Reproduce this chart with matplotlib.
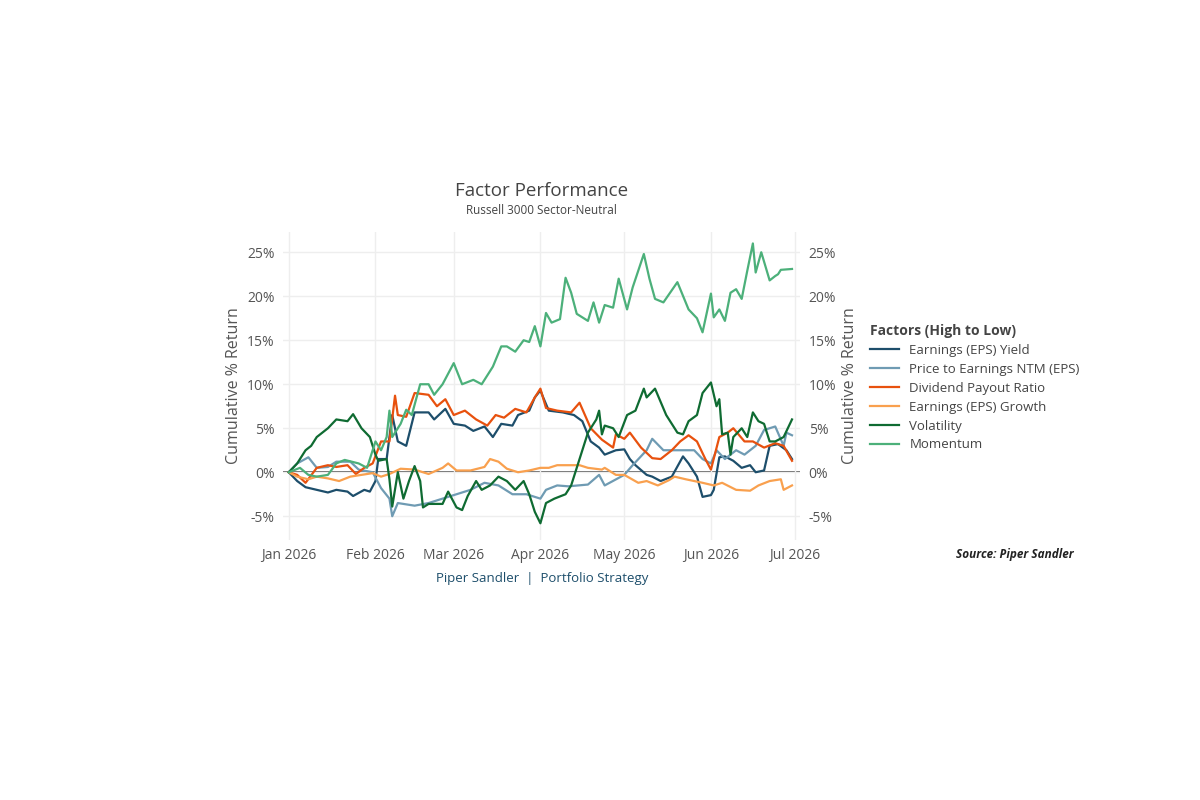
import numpy as np
import pandas as pd
import matplotlib.pyplot as plt
import matplotlib.dates as mdates

plt.rcParams['font.family'] = ['Open Sans', 'DejaVu Sans']

start = pd.Timestamp('2026-01-01')

# (day offset from Jan 1, cumulative % return)
ey_days = [0,3,6,10,14,17,21,23,27,29,31,32,35,37,39,42,45,50,52,56,59,63,66,70,73,76,80,82,86,88,90,91,93,98,102,105,108,111,113,117,120,122,124,128,130,133,137,141,143,146,148,151,152,154,156,159,162,165,167,170,172,175,178,180]
ey_vals = [0,-1,-1.7,-2,-2.3,-2,-2.2,-2.7,-2,-2.2,-1,1.5,1.5,6.5,3.5,3,6.8,6.8,6,7.2,5.5,5.3,4.7,5.2,4,5.5,5.3,6.5,7,8.5,9.3,8.5,7,6.8,6.5,5.8,3.5,2.8,2,2.5,2.6,1.5,0.8,-0.3,-0.5,-1,-0.5,1.8,1,-0.5,-2.8,-2.6,-2,1.7,1.8,1.3,0.5,0.8,0,0.2,3,3.2,2.5,1.5]

pe_days = [0,3,7,10,14,17,22,25,30,33,36,37,39,45,50,55,60,65,70,75,80,85,90,92,96,100,107,111,113,120,123,128,130,134,140,145,148,151,153,156,160,163,167,170,174,177,178,180]
pe_vals = [0,1,1.7,0.5,0.6,1.2,1.2,0.3,0,-1.8,-3,-5,-3.5,-3.8,-3.5,-3,-2.5,-2,-1.2,-1.5,-2.5,-2.5,-3,-2,-1.5,-1.6,-1.4,-0.3,-1.5,-0.3,0.8,2.5,3.8,2.5,2.5,2.5,1.5,1,2.5,1.5,2.5,2,3,4.8,5.2,3,4.5,4.2]

dp_days = [0,3,6,10,14,17,21,24,27,30,33,36,38,39,42,45,50,53,56,59,63,67,71,74,77,81,85,88,90,92,96,101,104,108,112,116,117,120,122,126,130,133,137,140,143,146,149,151,154,157,159,163,166,170,174,177,180]
dp_vals = [0,-0.3,-1.2,0.5,0.8,0.6,0.8,-0.2,0.5,1,3.5,3.5,8.7,6.5,6.3,9,8.8,7.5,8.3,6.5,7,6,5.3,6.5,6.2,7.2,6.8,8.5,9.5,7.3,7,6.8,7.9,5,3.7,2.8,4.3,3.8,4.5,2.8,1.6,1.5,2.5,3.5,4.2,3.5,1.5,0.3,4,4.5,5,3.5,3.5,2.8,3.3,3,1.3]

eg_days = [0,3,7,10,14,18,22,26,30,33,36,40,45,50,55,57,60,65,70,72,75,78,82,86,90,93,96,100,104,107,112,113,117,120,125,128,132,136,138,142,148,152,155,160,165,168,172,176,177,180]
eg_vals = [0,-0.5,-0.8,-0.5,-0.7,-1,-0.5,-0.3,-0.1,-0.5,-0.2,0.4,0.3,-0.2,0.5,1,0.2,0.2,0.6,1.5,1.2,0.4,0,0.2,0.5,0.5,0.8,0.8,0.8,0.5,0.3,0.5,-0.3,-0.3,-1.2,-1,-1.5,-0.9,-0.5,-0.8,-1.2,-1.5,-1.2,-2,-2.1,-1.5,-1,-0.8,-2,-1.5]

vol_days = [0,3,6,8,10,14,17,21,23,26,29,31,32,35,36,37,39,41,43,45,47,48,50,55,57,60,62,64,67,69,72,75,78,81,84,86,88,90,92,95,99,101,104,107,110,111,112,113,116,118,121,124,127,128,131,135,139,141,143,146,148,151,153,154,155,157,158,159,162,164,166,168,170,172,174,177,180]
vol_vals = [0,1,2.5,3,4,5,6,5.8,6.6,5,4,2,1.3,1.5,-0.8,-3.9,0,-3,-1,0.7,-1,-4,-3.6,-3.6,-2.2,-4,-4.3,-2.7,-1,-2,-1.5,-0.5,-1,-2,-1,-2.5,-4.5,-5.8,-3.5,-3,-2.5,-1.5,1.5,4.5,6,7,4.3,5.3,5,4,6.5,7,9.5,8.5,9.5,6.5,4.5,4.3,5.8,6.5,9,10.2,7.5,8.3,4.3,4.5,2,4,5,4,6.8,5.8,5.5,3.5,3.5,4,6]

mom_days = [0,4,7,10,14,17,20,25,28,31,33,35,36,37,40,42,44,47,50,52,55,59,62,66,69,73,76,78,81,84,86,88,90,92,94,97,99,101,103,107,109,111,113,116,118,121,123,125,127,129,131,134,139,143,146,148,151,152,154,156,158,160,162,164,166,167,169,172,174,175,176,180]
mom_vals = [0,0.5,-0.3,-0.5,-0.3,1,1.4,1,0.5,3.5,2.5,4,7,4,5.5,7.1,6.5,10,10,8.8,10,12.4,10,10.5,10,12,14.3,14.3,13.7,15,14.8,16.6,14.3,18.1,17,17.4,22.1,20.4,18,17.2,19.3,17,19,18.7,22,18.5,21,22.9,24.8,22,19.7,19.3,21.6,18.5,17.5,15.9,20.3,17.6,18.5,17.2,20.4,20.8,19.7,22.9,26,22.7,25,21.8,22.3,22.5,23,23.1]

series = [
    ('Earnings (EPS) Yield', ey_days, ey_vals, '#1d4e6b'),
    ('Price to Earnings NTM (EPS)', pe_days, pe_vals, '#6f9bb3'),
    ('Dividend Payout Ratio', dp_days, dp_vals, '#e8510e'),
    ('Earnings (EPS) Growth', eg_days, eg_vals, '#f9a04e'),
    ('Volatility', vol_days, vol_vals, '#0f6b32'),
    ('Momentum', mom_days, mom_vals, '#4cb07a'),
]

fig = plt.figure(figsize=(12, 8), dpi=100)
ax = fig.add_axes([0.236, 0.325, 0.431, 0.385])

for name, d, v, c in series:
    dates = start + pd.to_timedelta(d, unit='D')
    ax.plot(dates, v, color=c, lw=1.6, label=name)

ax.axhline(0, color='#555555', lw=1.3, zorder=0)
ax.set_xlim(start - pd.Timedelta(days=2), pd.Timestamp('2026-07-03'))
ax.set_ylim(-7.7, 27.3)
yt = [-5, 0, 5, 10, 15, 20, 25]
ax.set_yticks(yt)
ax.set_yticklabels([f'{t}%' for t in yt])
ax.xaxis.set_major_locator(mdates.MonthLocator())
ax.xaxis.set_major_formatter(mdates.DateFormatter('%b %Y'))
ax.grid(True, color='#eeeeee', lw=1)
for s in ax.spines.values():
    s.set_visible(False)
ax.tick_params(length=0, labelsize=10, colors='#555555', pad=6)
ax.set_ylabel('Cumulative % Return', fontsize=11.5, color='#555555')

ax2 = ax.twinx()
ax2.set_ylim(ax.get_ylim())
ax2.set_yticks(yt)
ax2.set_yticklabels([f'{t}%' for t in yt])
for s in ax2.spines.values():
    s.set_visible(False)
ax2.tick_params(length=0, labelsize=10, colors='#555555', pad=6)
ax2.set_ylabel('Cumulative % Return', fontsize=11.5, color='#555555')

fig.text(0.4515, 0.755, 'Factor Performance', ha='center', fontsize=13.5, color='#444444')
fig.text(0.4515, 0.733, 'Russell 3000 Sector-Neutral', ha='center', fontsize=8.5, color='#444444')
fig.text(0.4515, 0.272, 'Piper Sandler  |  Portfolio Strategy', ha='center', fontsize=9.5, color='#1d4e6b')
fig.text(0.895, 0.302, 'Source: Piper Sandler', ha='right', fontsize=8.5, style='italic',
         weight='bold', color='#222222')

h, l = ax.get_legend_handles_labels()
leg = fig.legend(h, l, loc='upper left', bbox_to_anchor=(0.715, 0.61), frameon=False,
                 title='Factors (High to Low)', fontsize=9.5, handlelength=2.2,
                 labelspacing=0.45, alignment='left')
leg.get_title().set_fontsize(10)
leg.get_title().set_fontweight('bold')
leg.get_title().set_color('#444444')
for t in leg.get_texts():
    t.set_color('#444444')

fig.savefig('out.png', dpi=100)
